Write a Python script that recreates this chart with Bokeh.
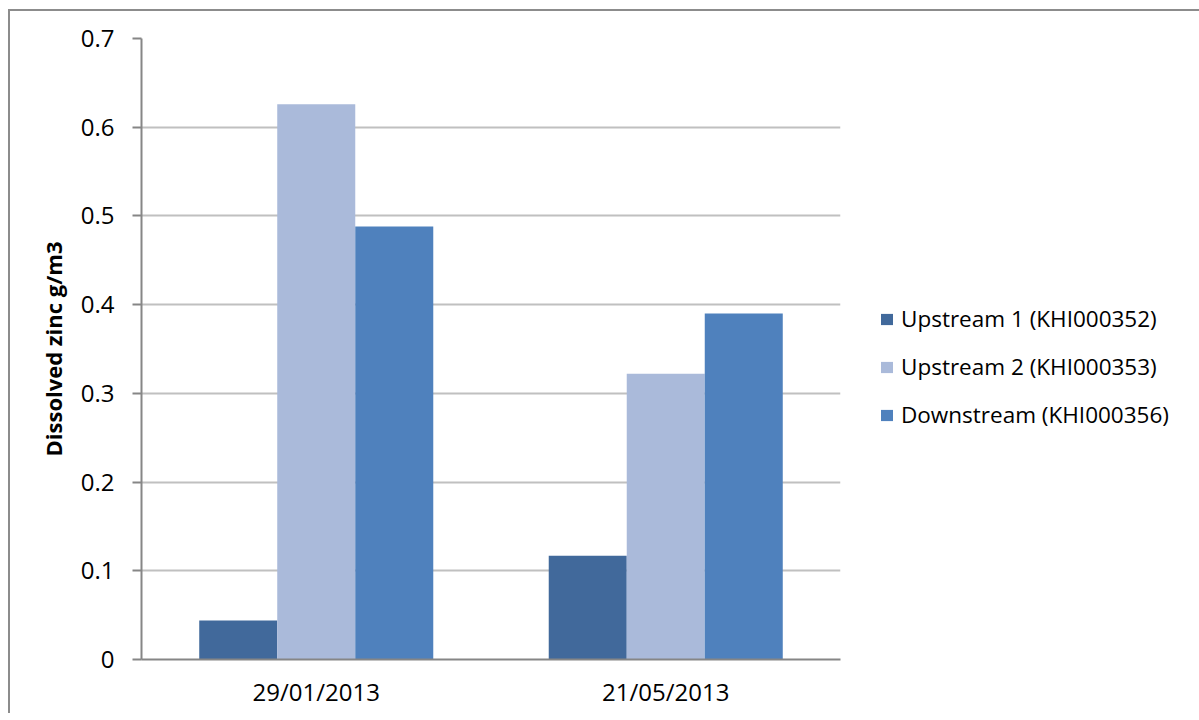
from bokeh.plotting import figure
from bokeh.models import ColumnDataSource, FactorRange, Range1d, Legend, LegendItem, NumeralTickFormatter, FixedTicker
from bokeh.transform import dodge
from bokeh.embed import file_html
from bokeh.resources import INLINE

dates = ["29/01/2013", "21/05/2013"]
series_names = ["Upstream 1 (KHI000352)", "Upstream 2 (KHI000353)", "Downstream (KHI000356)"]
upstream1 = [0.044, 0.117]
upstream2 = [0.626, 0.322]
downstream = [0.488, 0.390]
colors = ["#41699B", "#AABADA", "#4F81BD"]
y_ticks = [0, 0.1, 0.2, 0.3, 0.4, 0.5, 0.6, 0.7]

src = ColumnDataSource(dict(date=dates, u1=upstream1, u2=upstream2, d=downstream))

W, H = 1182, 702
p = figure(x_range=FactorRange(*dates, range_padding=0), y_range=Range1d(0, 0.7),
           width=W, height=H, output_backend="svg", toolbar_location=None,
           frame_width=699, frame_height=621,
           min_border_left=131, min_border_top=27, min_border_right=0, min_border_bottom=54)
p.margin = (9, 0, 0, 8)
p.styles = {"border-top": "2px solid #8c8c8c", "border-left": "2px solid #8c8c8c", "box-sizing": "border-box"}

bw = 0.2232
rs = []
for col, off, c in zip(["u1", "u2", "d"], [-bw, 0, bw], colors):
    r = p.vbar(x=dodge("date", off, range=p.x_range), top=col, width=bw, source=src,
               fill_color=c, line_color=None)
    rs.append(r)

legend = Legend(items=[LegendItem(label=n, renderers=[r]) for n, r in zip(series_names, rs)],
                location=(39, 229), padding=0, margin=0, spacing=17,
                glyph_width=15, glyph_height=14, label_height=24, label_standoff=7,
                border_line_color=None, background_fill_alpha=0,
                label_text_font="Open Sans", label_text_font_size="22.5px", label_text_color="#000000")
p.add_layout(legend, "right")

p.outline_line_color = None
p.xgrid.grid_line_color = None
p.ygrid.grid_line_color = "#C0C0C0"
p.ygrid.grid_line_width = 2
p.yaxis.ticker = FixedTicker(ticks=y_ticks)
p.yaxis.formatter = NumeralTickFormatter(format="0.[0]")

for ax in (p.xaxis, p.yaxis):
    ax.axis_line_color = "#868686"
    ax.axis_line_width = 2
    ax.major_label_text_font = "Open Sans"
    ax.major_label_text_font_size = "24px"
    ax.major_label_text_color = "#000000"
    ax.minor_tick_line_color = None

p.yaxis.major_tick_line_color = "#868686"
p.yaxis.major_tick_line_width = 2
p.yaxis.major_tick_out = 9
p.yaxis.major_tick_in = 0
p.yaxis.major_label_standoff = 18
p.yaxis.axis_label = "Dissolved zinc g/m3"
p.yaxis.axis_label_text_font = "Open Sans"
p.yaxis.axis_label_text_font_style = "bold"
p.yaxis.axis_label_text_font_size = "22px"
p.yaxis.axis_label_text_color = "#000000"
p.yaxis.axis_label_standoff = 10

p.xaxis.major_tick_line_color = None
p.xaxis.major_tick_out = 0
p.xaxis.major_label_standoff = 15

open("out.html", "w").write(file_html(p, INLINE))
